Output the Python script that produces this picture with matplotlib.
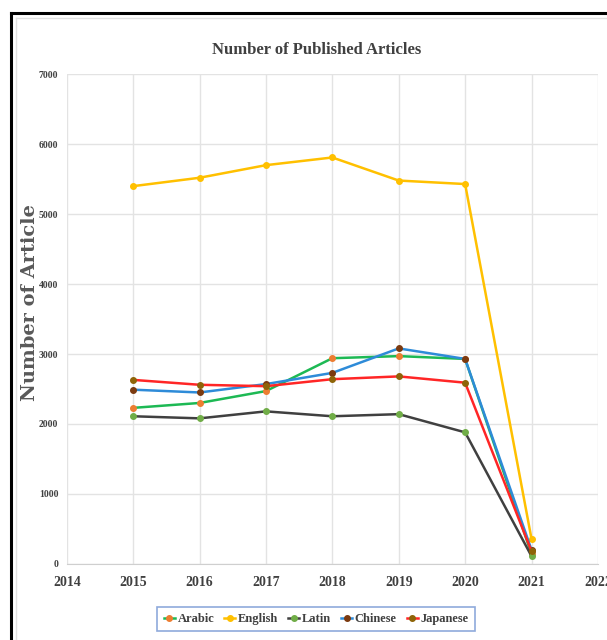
import matplotlib
matplotlib.use("Agg")
import matplotlib.pyplot as plt
from matplotlib.lines import Line2D

# values
years = [2015, 2016, 2017, 2018, 2019, 2020, 2021]
arabic = [2230, 2300, 2470, 2940, 2970, 2930, 140]
english = [5400, 5520, 5700, 5810, 5480, 5430, 357]
latin = [2110, 2080, 2180, 2110, 2140, 1880, 110]
chinese = [2490, 2450, 2570, 2730, 3080, 2930, 200]
japanese = [2630, 2560, 2540, 2640, 2680, 2590, 180]

series = [
    ("Arabic", arabic, "#1DB954", "#ED7D31"),
    ("English", english, "#FFC000", "#FFC000"),
    ("Latin", latin, "#404040", "#70AD47"),
    ("Chinese", chinese, "#2E8BD8", "#7B3A10"),
    ("Japanese", japanese, "#FF2626", "#8E6408"),
]

serif = ["Liberation Serif", "DejaVu Serif"]

fig = plt.figure(figsize=(6.07, 6.40), dpi=100)
ax = fig.add_axes([0.110, 0.119, 0.875, 0.765])

for name, vals, lc, mc in series:
    ax.plot(years, vals, color=lc, lw=1.8, marker="o", ms=4,
            markerfacecolor=mc, markeredgecolor=mc, label=name)

ax.set_xlim(2014, 2022)
ax.set_ylim(0, 7000)
ax.set_xticks(range(2014, 2023))
ax.set_yticks(range(0, 7001, 1000))
ax.grid(True, color="#e3e3e3", lw=1)
ax.set_axisbelow(True)
for s in ["top", "right", "left"]:
    ax.spines[s].set_visible(False)
ax.spines["bottom"].set_color("#cfcfcf")
ax.tick_params(length=0)
ax.tick_params(axis="x", pad=9)
ax.tick_params(axis="y", pad=6)
for lab in ax.get_xticklabels():
    lab.set_fontfamily(serif)
    lab.set_fontweight("bold")
    lab.set_fontsize(10)
    lab.set_color("#404040")
for lab in ax.get_yticklabels():
    lab.set_fontfamily(serif)
    lab.set_fontweight("bold")
    lab.set_fontsize(7)
    lab.set_color("#404040")

fig.text(0.521, 0.922, "Number of Published Articles", ha="center", va="center",
         fontsize=12, fontweight="bold", family=serif, color="#404040")
fig.text(0.049, 0.528, "Number of Article", rotation=90, ha="center", va="center",
         fontsize=14, fontweight="bold", family="DejaVu Serif", color="#595959")

leg = fig.legend(loc="center", bbox_to_anchor=(0.521, 0.033), ncol=5,
                 prop={"family": serif, "weight": "bold", "size": 9},
                 handlelength=0.9, handletextpad=0.2, columnspacing=0.8,
                 fancybox=False, framealpha=1, borderpad=0.5)
leg.get_frame().set_edgecolor("#8FAADC")
leg.get_frame().set_linewidth(1.2)
for t in leg.get_texts():
    t.set_color("#404040")

# outer frame of the screenshot
fig.add_artist(Line2D([0.018, 1.0], [1 - 13 / 640, 1 - 13 / 640], color="black", lw=2.2,
                      transform=fig.transFigure))
fig.add_artist(Line2D([0.018, 0.018], [0, 1 - 13 / 640], color="black", lw=2.2,
                      transform=fig.transFigure))
fig.add_artist(Line2D([0.026, 1.0], [1 - 18 / 640, 1 - 18 / 640], color="#e0e0e0", lw=1,
                      transform=fig.transFigure))
fig.add_artist(Line2D([0.026, 0.026], [0, 1 - 18 / 640], color="#e0e0e0", lw=1,
                      transform=fig.transFigure))

fig.savefig("out.png", dpi=100)
